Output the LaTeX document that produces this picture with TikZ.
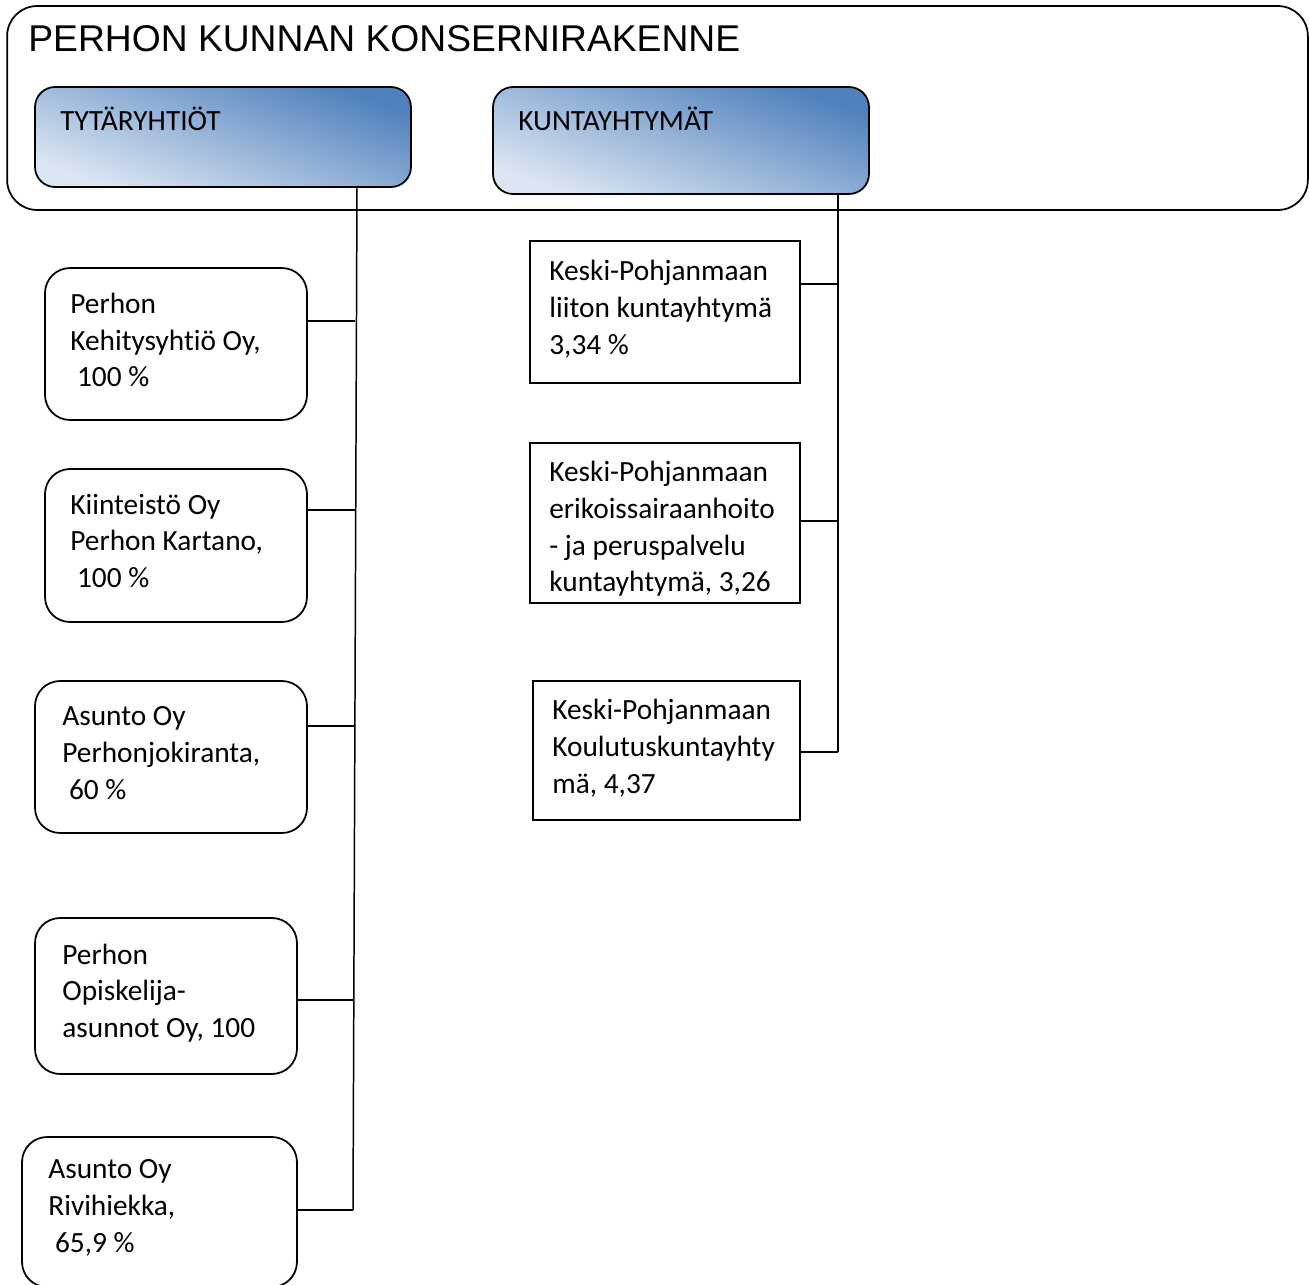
\documentclass[tikz,border=0pt]{standalone}
\usepackage{fontspec}
\setmainfont{Carlito}[Ligatures=NoCommon]
\newfontfamily\titlefont{Liberation Sans}
\definecolor{gdark}{HTML}{4F81BD}
\definecolor{gmid}{HTML}{97B2D0}
\definecolor{glight}{HTML}{DCE6F2}
\begin{document}
\begin{tikzpicture}[x=0.02cm,y=-0.02cm,
  font=\fontsize{16.7}{20.9}\selectfont,
  rbox/.style={draw, line width=1pt, rounded corners=0.5cm, inner sep=0pt},
  sbox/.style={draw, line width=1pt, inner sep=0pt},
  hbox/.style={draw, line width=1pt, rounded corners=0.4cm, inner sep=0pt,
    top color=gdark, middle color=gmid, bottom color=glight, shading angle=-20},
  txt/.style={anchor=west, align=left, inner sep=0pt},
  conn/.style={line width=0.85pt}]
\useasboundingbox (0,0) rectangle (1309,1285);
% outer frame
\node[draw, line width=1pt, rounded corners=0.6cm, minimum width=26.02cm, minimum height=4.08cm, inner sep=0pt] (outer) at (657.5,108) {};
\node[anchor=base west, inner sep=0pt, font=\titlefont\fontsize{21.2}{24}\selectfont] (title) at (28,51) {PERHON KUNNAN KONSERNIRAKENNE};
% header boxes
\node[hbox, minimum width=7.52cm, minimum height=2.0cm] (tyt) at (223,137) {};
\node[anchor=base west, inner sep=0pt] (tytt) at (60,130) {TYTÄRYHTIÖT};
\node[hbox, minimum width=7.52cm, minimum height=2.14cm] (kun) at (681,140.5) {};
\node[anchor=base west, inner sep=0pt] (kunt) at (518,130) {KUNTAYHTYMÄT};
% left boxes
\node[rbox, minimum width=5.24cm, minimum height=3.04cm] (b1) at (176,344) {};
\node[txt] (b1t) at (70,340) {Perhon\\Kehitysyhtiö Oy,\\\hspace*{0.23em}100 \%};
\node[rbox, minimum width=5.24cm, minimum height=3.06cm] (b2) at (176,545.5) {};
\node[txt] (b2t) at (70,541) {Kiinteistö Oy\\Perhon Kartano,\\\hspace*{0.23em}100 \%};
\node[rbox, minimum width=5.44cm, minimum height=3.04cm] (b3) at (171,757) {};
\node[txt] (b3t) at (62,753) {Asunto Oy\\Perhonjokiranta,\\\hspace*{0.23em}60 \%};
\node[rbox, minimum width=5.24cm, minimum height=3.12cm] (b4) at (166,996) {};
\node[txt] (b4t) at (62,993) {Perhon\\Opiskelija-\\asunnot Oy, 100};
\node[rbox, minimum width=5.50cm, minimum height=3.0cm] (b5) at (159.5,1212) {};
\node[txt] (b5t) at (48,1208) {Asunto Oy\\Rivihiekka,\\\hspace*{0.23em}65,9 \%};
% right boxes
\node[sbox, minimum width=5.40cm, minimum height=2.84cm] (r1) at (665,312) {};
\node[txt] (r1t) at (549,309) {Keski-Pohjanmaan\\liiton kuntayhtymä\\3,34 \%};
\node[sbox, minimum width=5.40cm, minimum height=3.20cm] (r2) at (665,523) {};
\node[txt] (r2t) at (549,529) {Keski-Pohjanmaan\\erikoissairaanhoito\\- ja peruspalvelu\\kuntayhtymä, 3,26};
\node[sbox, minimum width=5.34cm, minimum height=2.78cm] (r3) at (666.5,750.5) {};
\node[txt] (r3t) at (552,748) {Keski-Pohjanmaan\\Koulutuskuntayhty\\mä, 4,37};
% bus coordinates
\coordinate (lt) at (357,187);
\coordinate (j1) at (355,321);
\coordinate (j2) at (354.5,510);
\coordinate (j3) at (354,726);
\coordinate (j4) at (353.5,1000);
\coordinate (j5) at (353,1210);
\draw[conn] (tyt.south -| lt) -- (j5);
\draw[conn] (b1.east |- j1) -- (j1);
\draw[conn] (b2.east |- j2) -- (j2);
\draw[conn] (b3.east |- j3) -- (j3);
\draw[conn] (b4.east |- j4) -- (j4);
\draw[conn] (b5.east |- j5) -- (j5);
\coordinate (k1) at (838,284);
\coordinate (k2) at (838,521);
\coordinate (k3) at (838,752);
\draw[conn] (kun.south -| k1) -- (k3);
\draw[conn] (r1.east |- k1) -- (k1);
\draw[conn] (r2.east |- k2) -- (k2);
\draw[conn] (r3.east |- k3) -- (k3);
\end{tikzpicture}
\end{document}
